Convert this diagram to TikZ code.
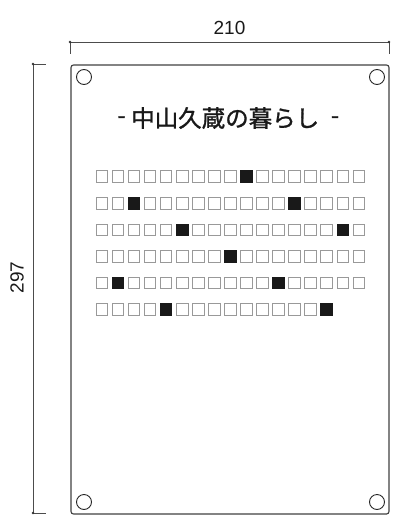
\documentclass[tikz,border=0pt]{standalone}
\usepackage{fontspec}
\setmainfont{Liberation Sans}
\newfontfamily\cjk{Noto Sans CJK JP}[FakeBold=1.2]
\begin{document}
\begin{tikzpicture}[x=1pt,y=-1pt,
  dimline/.style={draw=black!70,line width=0.8pt},
  plate/.style={draw=black!75,line width=1.1pt,rounded corners=2.5pt},
  hole/.style={draw=black!85,line width=0.9pt},
  cellE/.style={draw=black!40,line width=1pt,minimum size=11.5pt,inner sep=0pt,fill=white},
  cellF/.style={draw=black!90,fill=black!90,line width=1pt,minimum size=11.5pt,inner sep=0pt},
  dimtext/.style={font=\fontsize{19}{19}\selectfont,text=black!90},
  titletext/.style={font=\cjk\fontsize{23.5}{23.5}\selectfont,text=black!90,inner sep=0pt}]
\useasboundingbox (0,0) rectangle (414,528);
% plate
\draw[plate] (71,65) rectangle (389,514);
\foreach \n/\x/\y in {h1/84/77,h2/377/77,h3/84/502,h4/377/502}
  \draw[hole] (\x,\y) circle (7.5);
% top dimension
\coordinate (tl) at (70,42);
\coordinate (tr) at (389,42);
\coordinate (tlb) at (70,54);
\coordinate (trb) at (389,54);
\draw[dimline] (tl) -- (tr);
\draw[dimline] (tl) -- (tlb);
\draw[dimline] (tr) -- (trb);
\fill[black!80] (tl) circle (1.4) (tr) circle (1.4);
\node[dimtext] (w) at (229.5,28) {210};
% left dimension
\coordinate (lt) at (33,64);
\coordinate (lb) at (33,513);
\coordinate (ltr) at (46,64);
\coordinate (lbr) at (46,513);
\draw[dimline] (lt) -- (lb);
\draw[dimline] (lt) -- (ltr);
\draw[dimline] (lb) -- (lbr);
\fill[black!80] (lt) circle (1.4) (lb) circle (1.4);
\node[dimtext,rotate=90] (h) at (17,277.5) {297};
% title
\node[titletext] (tdl) at (121.5,120) {-};
\node[titletext,anchor=west] (title) at (131,118) {中山久蔵の暮らし};
\node[titletext] (tdr) at (335,120) {-};
% grid
\foreach \r/\len/\fa/\fb in {0/17/9/99,1/17/2/12,2/17/5/15,3/17/8/99,4/17/1/11,5/15/4/14}{
  \foreach \c in {1,...,\len}{
    \pgfmathtruncatemacro{\ci}{\c-1}
    \pgfmathsetmacro{\cx}{102+\ci*16.05}
    \pgfmathsetmacro{\cy}{176.7+\r*26.56}
    \ifnum\ci=\fa
      \node[cellF] (c\r-\ci) at (\cx,\cy) {};
    \else\ifnum\ci=\fb
      \node[cellF] (c\r-\ci) at (\cx,\cy) {};
    \else
      \node[cellE] (c\r-\ci) at (\cx,\cy) {};
    \fi\fi
  }
}
\end{tikzpicture}
\end{document}
